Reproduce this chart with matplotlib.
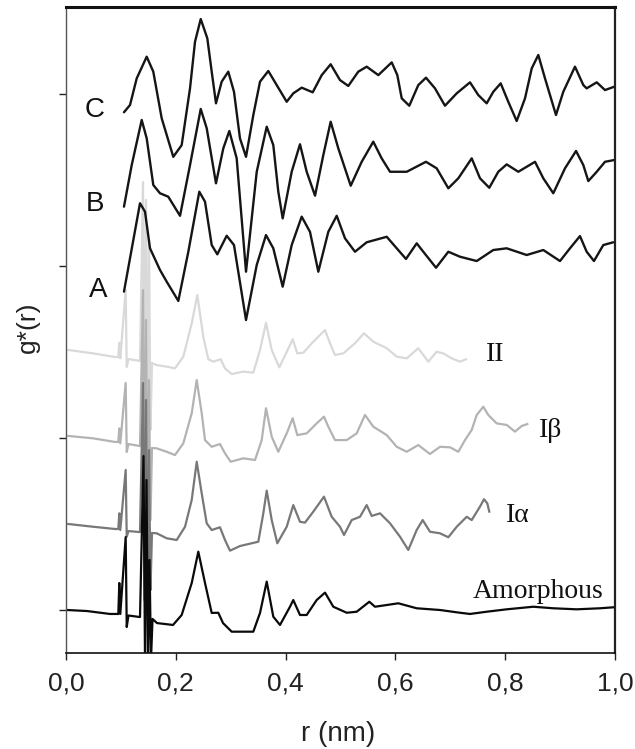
import matplotlib
matplotlib.use("Agg")
import matplotlib.pyplot as plt

# ---------------- data (r in nm, g*(r) in stacked arbitrary units) ----------------
c_r = [0.1056,0.1166,0.1288,0.1470,0.1590,0.1743,0.1954,0.2107,0.2259,0.2350,0.2454,0.2574,0.2654,0.2732,0.2836,0.2956,0.3060,0.3169,0.3279,0.3412,0.3534,0.3685,0.3838,0.4020,0.4140,0.4293,0.4494,0.4658,0.4821,0.4991,0.5142,0.5324,0.5477,0.5689,0.5933,0.6035,0.6115,0.6253,0.6417,0.6557,0.6721,0.6903,0.7117,0.7359,0.7510,0.7663,0.7783,0.7918,0.8056,0.8209,0.8361,0.8483,0.8603,0.8725,0.8925,0.9058,0.9271,0.9423,0.9484,0.9667,0.9818,0.9982]
c_g = [2.894,2.936,3.091,3.217,3.130,2.859,2.635,2.703,3.033,3.304,3.436,3.324,3.130,2.946,3.072,3.130,3.013,2.742,2.635,2.878,3.072,3.134,3.052,2.955,3.004,3.037,3.010,3.110,3.173,3.081,3.047,3.130,3.159,3.110,3.184,3.110,2.975,2.932,3.052,3.095,3.033,2.932,3.004,3.068,2.994,2.946,3.013,3.062,2.955,2.843,2.975,3.149,3.227,3.091,2.878,3.013,3.159,3.052,3.033,3.068,3.023,3.042]

b_r = [0.1056,0.1197,0.1379,0.1470,0.1590,0.1712,0.1863,0.2077,0.2259,0.2454,0.2563,0.2732,0.2865,0.2975,0.3109,0.3279,0.3474,0.3656,0.3776,0.3867,0.3947,0.4111,0.4262,0.4384,0.4536,0.4687,0.4821,0.4960,0.5186,0.5386,0.5597,0.5750,0.5902,0.6206,0.6557,0.6752,0.6964,0.7146,0.7390,0.7541,0.7710,0.7874,0.8027,0.8239,0.8543,0.8694,0.8876,0.9089,0.9290,0.9423,0.9514,0.9667,0.9818,0.9982]
b_g = [2.345,2.587,2.849,2.742,2.471,2.423,2.403,2.292,2.587,2.913,2.801,2.481,2.684,2.785,2.626,1.967,2.548,2.810,2.703,2.432,2.277,2.548,2.708,2.548,2.409,2.645,2.839,2.684,2.467,2.606,2.723,2.626,2.548,2.548,2.606,2.568,2.452,2.510,2.626,2.510,2.455,2.548,2.591,2.548,2.606,2.510,2.423,2.568,2.669,2.587,2.494,2.548,2.606,2.616]

a_r = [0.1056,0.1166,0.1348,0.1439,0.1530,0.1712,0.1834,0.2046,0.2228,0.2428,0.2532,0.2654,0.2756,0.2927,0.3060,0.3279,0.3474,0.3643,0.3776,0.3947,0.4111,0.4293,0.4444,0.4596,0.4778,0.4931,0.5082,0.5264,0.5477,0.5842,0.6024,0.6193,0.6388,0.6508,0.6740,0.6964,0.7177,0.7481,0.7783,0.8027,0.8392,0.8694,0.8998,0.9180,0.9362,0.9484,0.9617,0.9787,0.9969]
a_g = [1.851,2.045,2.365,2.316,2.103,1.977,1.909,1.797,2.083,2.432,2.374,2.122,2.068,2.176,2.122,1.686,2.006,2.180,2.103,1.880,2.122,2.287,2.199,1.967,2.199,2.292,2.161,2.083,2.138,2.170,2.103,2.041,2.132,2.083,1.990,2.083,2.054,2.029,2.093,2.103,2.064,2.093,2.029,2.103,2.174,2.083,2.029,2.122,2.138]

ii_r = [0.0042,0.0497,0.0893,0.0953,0.0971,0.0989,0.1087,0.1106,0.1138,0.1348,0.1403,0.1430,0.1457,0.1485,0.1512,0.1539,0.1566,0.1652,0.1834,0.1985,0.2137,0.2290,0.2392,0.2501,0.2592,0.2683,0.2818,0.2896,0.3018,0.3230,0.3412,0.3534,0.3643,0.3747,0.3885,0.4007,0.4129,0.4213,0.4322,0.4505,0.4718,0.4809,0.4900,0.5051,0.5264,0.5428,0.5597,0.5842,0.6024,0.6206,0.6417,0.6599,0.6752,0.6872,0.7025,0.7177,0.7286]
ii_g = [1.512,1.492,1.471,1.471,1.554,1.463,1.860,1.413,1.459,1.448,2.488,0.988,2.384,0.988,2.151,1.047,1.436,1.424,1.415,1.405,1.473,1.667,1.831,1.589,1.458,1.444,1.458,1.405,1.372,1.386,1.380,1.512,1.670,1.512,1.411,1.492,1.574,1.492,1.496,1.560,1.628,1.551,1.483,1.492,1.551,1.609,1.560,1.522,1.473,1.463,1.522,1.444,1.502,1.492,1.463,1.444,1.458]

ib_r = [0.0042,0.0497,0.0893,0.0953,0.0971,0.0989,0.1087,0.1106,0.1138,0.1348,0.1403,0.1430,0.1457,0.1485,0.1512,0.1539,0.1566,0.1652,0.1834,0.1985,0.2137,0.2290,0.2381,0.2472,0.2532,0.2654,0.2805,0.2896,0.3000,0.3230,0.3443,0.3565,0.3643,0.3747,0.3867,0.4020,0.4129,0.4213,0.4384,0.4566,0.4699,0.4778,0.4900,0.5113,0.5295,0.5446,0.5597,0.5842,0.6024,0.6206,0.6417,0.6630,0.6812,0.6995,0.7146,0.7268,0.7390,0.7481,0.7601,0.7692,0.7845,0.8027,0.8178,0.8301,0.8402]
ib_g = [1.012,0.998,0.977,0.977,1.056,0.969,1.320,0.919,0.965,0.953,1.860,0.465,1.686,0.465,1.337,0.523,0.942,0.940,0.920,0.901,0.969,1.144,1.337,1.144,0.988,0.949,0.965,0.911,0.862,0.882,0.872,0.988,1.173,1.008,0.920,1.027,1.115,1.017,1.027,1.085,1.124,1.066,0.988,0.988,1.027,1.134,1.066,1.017,0.949,0.920,0.959,0.907,0.949,0.946,0.920,0.988,1.047,1.134,1.182,1.134,1.085,1.076,1.037,1.070,1.081]

ia_r = [0.0042,0.0497,0.0893,0.0953,0.0971,0.0989,0.1087,0.1106,0.1138,0.1348,0.1403,0.1430,0.1457,0.1485,0.1512,0.1539,0.1566,0.1652,0.1834,0.2016,0.2168,0.2290,0.2381,0.2472,0.2563,0.2654,0.2805,0.2896,0.2987,0.3169,0.3503,0.3594,0.3656,0.3747,0.3849,0.4020,0.4140,0.4262,0.4353,0.4505,0.4699,0.4840,0.4991,0.5064,0.5204,0.5355,0.5477,0.5568,0.5720,0.5902,0.6084,0.6235,0.6388,0.6497,0.6630,0.6812,0.6964,0.7117,0.7299,0.7390,0.7541,0.7614,0.7674,0.7710]
ia_g = [0.500,0.484,0.471,0.471,0.562,0.465,0.814,0.426,0.459,0.453,1.320,0.058,1.221,0.058,0.930,0.116,0.448,0.446,0.417,0.407,0.484,0.640,0.862,0.678,0.504,0.465,0.481,0.407,0.345,0.372,0.397,0.562,0.694,0.523,0.388,0.484,0.610,0.513,0.508,0.572,0.659,0.542,0.484,0.436,0.523,0.542,0.610,0.547,0.562,0.504,0.426,0.349,0.465,0.523,0.455,0.446,0.423,0.484,0.542,0.523,0.601,0.644,0.620,0.572]

am_r = [0.0018,0.0383,0.0801,0.0953,0.0971,0.0989,0.1087,0.1106,0.1138,0.1348,0.1412,0.1439,0.1466,0.1494,0.1521,0.1548,0.1576,0.1658,0.1949,0.2107,0.2290,0.2410,0.2532,0.2654,0.2774,0.2860,0.3018,0.3412,0.3534,0.3656,0.3776,0.3898,0.4080,0.4140,0.4262,0.4384,0.4566,0.4718,0.4869,0.5113,0.5295,0.5525,0.5628,0.5842,0.6053,0.6388,0.6812,0.7177,0.7359,0.7663,0.8027,0.8512,0.8876,0.9302,0.9727,0.9982]
am_g = [0.000,-0.006,-0.023,-0.023,0.157,-0.023,0.424,-0.099,-0.032,-0.041,0.895,-0.291,0.756,-0.291,0.291,-0.291,-0.052,-0.076,-0.087,-0.029,0.157,0.339,0.157,-0.017,-0.016,-0.076,-0.126,-0.126,-0.017,0.165,-0.039,-0.087,0.019,0.058,-0.029,-0.029,0.058,0.101,0.019,-0.016,-0.010,0.048,0.019,0.029,0.039,0.010,0.000,-0.016,-0.023,-0.010,0.004,0.019,0.010,0.004,0.010,0.016]

x_ticks = [0.0, 0.2, 0.4, 0.6, 0.8, 1.0]
x_tick_labels = ["0,0", "0,2", "0,4", "0,6", "0,8", "1,0"]
y_ticks = [0, 1, 2, 3]

# ---------------- figure ----------------
W, H = 635, 749
fig = plt.figure(figsize=(W / 100, H / 100), dpi=100)
ax = fig.add_axes([66 / W, 1 - 653 / H, 549 / W, 646 / H])

gray_series = [
    (ii_r, ii_g, "#d9d9d9"),
    (ib_r, ib_g, "#b3b3b3"),
    (ia_r, ia_g, "#787878"),
    (am_r, am_g, "#0a0a0a"),
]
for r, g, col in gray_series:
    ax.plot(r, g, color=col, lw=1.6, solid_joinstyle="round")

for r, g in [(a_r, a_g), (b_r, b_g), (c_r, c_g)]:
    ax.plot(r, g, color="#151515", lw=1.7, solid_joinstyle="round",
            solid_capstyle="round")

ax.set_xlim(0, 1.0)
ax.set_ylim(-0.25, 3.506)

ax.set_xticks(x_ticks)
ax.set_xticklabels(x_tick_labels)
ax.set_yticks(y_ticks)
ax.set_yticklabels([])
ax.tick_params(axis="both", direction="out", length=5, width=1, colors="#222222")
ax.tick_params(axis="x", labelsize=19, pad=8, labelcolor="#222222")
for lab in ax.get_xticklabels():
    lab.set_family("Liberation Sans")

for side, lw, col in [("top", 2.2, "#111111"), ("right", 1.6, "#222222"),
                      ("left", 1.0, "#555555"), ("bottom", 1.2, "#111111")]:
    ax.spines[side].set_linewidth(lw)
    ax.spines[side].set_color(col)

ax.set_xlabel("r (nm)", fontsize=20, family="Liberation Sans", color="#222222")
ax.xaxis.set_label_coords(0.4954, -0.106)
ax.set_ylabel("g*(r)", fontsize=19, family="Liberation Sans", color="#222222")
ax.yaxis.set_label_coords(-0.047, 0.505)

# curve labels
sans = dict(fontsize=20, family="Liberation Sans", color="#111111", ha="center", va="center")
ax.text(0.0528, 2.907, "C", **sans)
ax.text(0.0528, 2.360, "B", **sans)
ax.text(0.0583, 1.860, "A", **sans)

serif = dict(fontsize=20, family="Liberation Serif", color="#111111", ha="left", va="baseline")
ax.text(0.765, 1.448, "II", **serif)
ax.text(0.8616, 1.006, "Iβ", **serif)
ax.text(0.8015, 0.512, "Iα", **serif)
ax.text(0.7413, 0.070, "Amorphous", **serif)

fig.savefig("out.png", dpi=100)
